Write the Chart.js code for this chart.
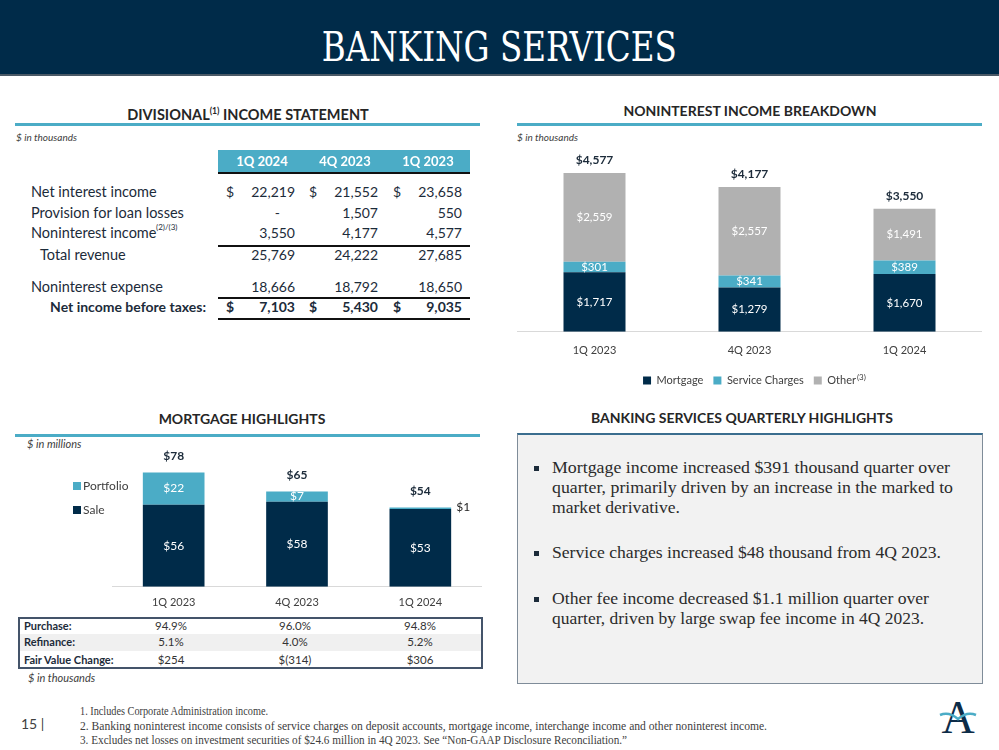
<!DOCTYPE html>
<html>
<head>
<meta charset="utf-8">
<script src="https://cdn.jsdelivr.net/npm/chart.js"></script>
<style>
  body { margin: 0; width: 999px; height: 750px; position: relative; overflow: hidden; background: #fff;
         font-family: Lato, "Open Sans", sans-serif; color: #262626; }
  .t { position: absolute; line-height: 20px; white-space: nowrap; }
  .bar { position: absolute; }
  canvas { position: absolute; }
  sup { font-size: 0.6em; }
</style>
</head>
<body>
<div class="bar" style="left:0;top:0;width:999px;height:74px;background:#002b49;border-bottom:2px solid #4a5966;"></div>
<div class="t fit" data-w="355" data-origin="center" style="left:0;width:999px;text-align:center;top:26px;line-height:42px;font-family:'DejaVu Serif';font-size:41px;color:#fff;">BANKING SERVICES</div>

<!-- section headings -->
<div class="t" style="left:48px;width:400px;text-align:center;top:101px;font-size:14.5px;font-weight:bold;">DIVISIONAL<sup>(1)</sup> INCOME STATEMENT</div>
<div class="bar" style="left:15px;top:123px;width:465px;height:3px;background:#4bacc6;"></div>
<div class="t" style="left:16px;top:127px;font-size:10px;font-style:italic;color:#404040;">$ in thousands</div>

<div class="t" style="left:550px;width:400px;text-align:center;top:101px;font-size:14px;font-weight:bold;">NONINTEREST INCOME BREAKDOWN</div>
<div class="bar" style="left:517px;top:123px;width:465px;height:3px;background:#4bacc6;"></div>
<div class="t" style="left:517px;top:127px;font-size:10px;font-style:italic;color:#404040;">$ in thousands</div>

<div class="t" style="left:42px;width:400px;text-align:center;top:409px;font-size:14px;font-weight:bold;">MORTGAGE HIGHLIGHTS</div>
<div class="bar" style="left:15px;top:434px;width:465px;height:3px;background:#4bacc6;"></div>
<div class="t" style="left:27px;top:434px;font-size:11px;font-style:italic;color:#404040;">$ in millions</div>

<div class="t" style="left:542px;width:400px;text-align:center;top:408px;font-size:14px;font-weight:bold;">BANKING SERVICES QUARTERLY HIGHLIGHTS</div>

<!-- income statement header band -->
<div class="bar" style="left:218px;top:150px;width:252px;height:22px;background:#4bacc6;border-bottom:2px solid #111;"></div>

<!-- noninterest chart -->
<canvas id="nonintChart" width="465" height="256" style="left:517px;top:140px;"></canvas>
<div id="otherSup" class="t" style="left:864px;top:362px;font-size:8px;color:#404040;">(3)</div>

<!-- mortgage chart -->
<canvas id="mortgageChart" width="370" height="164" style="left:112px;top:446px;"></canvas>
<div class="bar" style="left:73px;top:482px;width:8px;height:8px;background:#4bacc6;"></div>
<div class="t" style="left:83px;top:476px;font-size:12px;color:#404040;">Portfolio</div>
<div class="bar" style="left:73px;top:506px;width:8px;height:8px;background:#002b49;"></div>
<div class="t" style="left:83px;top:500px;font-size:12px;color:#404040;">Sale</div>

<!-- mortgage table box -->
<div class="bar" style="left:18px;top:617px;width:461px;height:48px;border:2px solid #44546a;"></div>
<div class="bar" style="left:20px;top:634px;width:461px;height:17px;background:#f0f0f0;"></div>
<div class="t" style="left:28px;top:668px;font-size:11px;font-style:italic;color:#404040;">$ in thousands</div>

<!-- highlights box -->
<div class="bar" style="left:517px;top:433px;width:464px;height:248px;background:#f2f2f2;border:1px solid #7f8c99;border-top:2px solid #3b6e8f;"></div>

<!-- footer -->
<div class="t" style="left:21px;top:714px;font-size:14px;color:#404040;">15 |</div>
<div class="t fit ftn" data-w="188" style="left:80px;top:701px;font-family:'Liberation Serif';font-size:12.5px;color:#404040;">1. Includes Corporate Administration income.</div>
<div class="t fit ftn" data-w="687" style="left:80px;top:716px;font-family:'Liberation Serif';font-size:12.5px;color:#404040;">2. Banking noninterest income consists of service charges on deposit accounts, mortgage income, interchange income and other noninterest income.</div>
<div class="t fit ftn" data-w="547" style="left:80px;top:730px;font-family:'Liberation Serif';font-size:12.5px;color:#404040;">3. Excludes net losses on investment securities of $24.6 million in 4Q 2023. See “Non-GAAP Disclosure Reconciliation.”</div>
<svg style="position:absolute;left:936px;top:694px;" width="44" height="44">
  <text x="22" y="39" text-anchor="middle" font-family="Liberation Serif" font-size="46" fill="#0d2c48">A</text>
  <path d="M4 21 Q13 17 22 25 Q31 17 40 21" stroke="#4bacc6" stroke-width="2.5" fill="none"/>
</svg>

<script>
// income statement (columns newest first)
const incomeCols = ["1Q 2024", "4Q 2023", "1Q 2023"];
const netInterestIncome = [22219, 21552, 23658];
const provisionLoanLosses = [null, 1507, 550];
const noninterestIncome = [3550, 4177, 4577];
const totalRevenue = [25769, 24222, 27685];
const noninterestExpense = [18666, 18792, 18650];
const netIncomeBeforeTaxes = [7103, 5430, 9035];

// charts (oldest first)
const quarters = ["1Q 2023", "4Q 2023", "1Q 2024"];
const mortgageIncome = [1717, 1279, 1670];
const serviceCharges = [301, 341, 389];
const otherIncome = [2559, 2557, 1491];
const saleVolume = [56, 58, 53];
const portfolioVolume = [22, 7, 1];

// mortgage table
const purchasePct = ["94.9%", "96.0%", "94.8%"];
const refinancePct = ["5.1%", "4.0%", "5.2%"];
const fairValueChange = ["$254", "$(314)", "$306"];

const highlights = [
  ["Mortgage income increased $391 thousand quarter over", "quarter, primarily driven by an increase in the marked to", "market derivative."],
  ["Service charges increased $48 thousand from 4Q 2023."],
  ["Other fee income decreased $1.1 million quarter over", "quarter, driven by large swap fee income in 4Q 2023."]
];

const NAVY = "#002b49";
const TEAL = "#4bacc6";
const GREY = "#b1b1b1";

// place a text div centred vertically on y
function put(text, x, y, o = {}) {
  const d = document.createElement("div");
  d.className = "t";
  d.textContent = text;
  d.style.top = (y - 10) + "px";
  if (o.align === "right") d.style.right = (999 - x) + "px";
  else if (o.align === "center") {
    d.style.left = (x - 100) + "px";
    d.style.width = "200px";
    d.style.textAlign = "center";
  } else d.style.left = x + "px";
  if (o.size) d.style.fontSize = o.size + "px";
  if (o.bold) d.style.fontWeight = "bold";
  if (o.color) d.style.color = o.color;
  if (o.family) d.style.fontFamily = o.family;
  document.body.appendChild(d);
  return d;
}

const fmt = (v) => v.toLocaleString("en-US");

// income statement table
const colCenters = [262, 345, 428];
const colRights = [295, 378, 462];
const colDollars = [226, 309, 393];
incomeCols.forEach((c, i) => put(c, colCenters[i], 161, { align: "center", size: 13, bold: true, color: "#fff" }));

const incomeRows = [
  { label: "Net interest income", vals: netInterestIncome, y: 192, dollar: true },
  { label: "Provision for loan losses", vals: provisionLoanLosses, y: 213 },
  { label: "Noninterest income", vals: noninterestIncome, y: 233, sup: "(2)/(3)" },
  { label: "Total revenue", vals: totalRevenue, y: 255, indent: true },
  { label: "Noninterest expense", vals: noninterestExpense, y: 287 },
  { label: "Net income before taxes:", vals: netIncomeBeforeTaxes, y: 307, dollar: true, bold: true }
];
const textCol = "#1c2b3a";
incomeRows.forEach((r) => {
  if (r.bold) put(r.label, 206, r.y, { align: "right", size: 14, bold: true, color: textCol });
  else put(r.label, r.indent ? 40 : 31, r.y, { size: 14.5, color: textCol });
  if (r.sup) put(r.sup, 156, r.y - 6, { size: 8, color: textCol });
  r.vals.forEach((v, i) => {
    if (r.dollar) put("$", colDollars[i], r.y, { size: 14, bold: r.bold, color: textCol });
    if (v === null) put("-", colRights[i] - 15, r.y, { align: "right", size: 14, color: textCol });
    else put(fmt(v), colRights[i], r.y, { align: "right", size: 14, bold: r.bold, color: textCol });
  });
});
[245, 297, 318].forEach((y) => {
  const l = document.createElement("div");
  l.className = "bar";
  l.style.cssText = `left:218px;top:${y}px;width:252px;height:2px;background:#111;`;
  document.body.appendChild(l);
});

// mortgage table
const mtCenters = [171, 295, 420];
[["Purchase:", purchasePct, 626], ["Refinance:", refinancePct, 642], ["Fair Value Change:", fairValueChange, 660]]
  .forEach(([lab, vals, y]) => {
    put(lab, 24, y, { size: 11, bold: true, color: textCol });
    vals.forEach((v, i) => put(v, mtCenters[i], y, { align: "center", size: 11.5, color: "#333" }));
  });

// highlights text
const lineYs = [[468, 488, 508], [553], [599, 619]];
const lineWs = [[398, 401, 128], [389], [377, 372]];
highlights.forEach((para, p) => {
  const sq = document.createElement("div");
  sq.className = "bar";
  sq.style.cssText = `left:534px;top:${lineYs[p][0] - 2}px;width:5px;height:5px;background:#1c2b3a;`;
  document.body.appendChild(sq);
  para.forEach((line, k) => {
    const d = put(line, 552, lineYs[p][k], { size: 17, family: "'Liberation Serif'", color: "#2b2b2b" });
    d.classList.add("fit");
    d.dataset.w = lineWs[p][k];
  });
});

// squeeze text to the reference widths
document.querySelectorAll(".fit").forEach((el) => {
  const target = +el.dataset.w;
  let w;
  if (el.dataset.origin === "center") {
    const s = document.createElement("span");
    s.textContent = el.textContent;
    el.textContent = "";
    el.appendChild(s);
    s.style.display = "inline-block";
    w = s.getBoundingClientRect().width;
    s.style.transform = `scaleX(${target / w})`;
  } else {
    w = el.getBoundingClientRect().width;
    el.style.transformOrigin = "left center";
    el.style.transform = `scaleX(${target / w})`;
  }
});

// labels inside stacked segments and totals on top
const stackLabels = {
  id: "stackLabels",
  afterDatasetsDraw(chart, args, o) {
    const ctx = chart.ctx;
    ctx.save();
    ctx.textBaseline = "middle";
    chart.data.datasets.forEach((ds, i) => {
      chart.getDatasetMeta(i).data.forEach((bar, j) => {
        const v = ds.data[j];
        ctx.font = o.inFont;
        if (v < o.minInside) {
          ctx.textAlign = "left";
          ctx.fillStyle = o.outColor;
          ctx.fillText(o.fmt(v), bar.x + bar.width / 2 + 5, bar.y);
        } else {
          ctx.textAlign = "center";
          ctx.fillStyle = "#fff";
          ctx.fillText(o.fmt(v), bar.x, (bar.y + bar.base) / 2);
        }
      });
    });
    const top = chart.getDatasetMeta(chart.data.datasets.length - 1);
    ctx.textAlign = "center";
    ctx.font = o.totFont;
    ctx.fillStyle = o.totColor;
    top.data.forEach((bar, j) => {
      const total = chart.data.datasets.reduce((s, ds) => s + ds.data[j], 0);
      ctx.fillText(o.fmt(total), bar.x, bar.y - o.totGap);
    });
    ctx.restore();
  }
};

Chart.defaults.font.family = "Lato, 'Open Sans', sans-serif";
Chart.defaults.color = "#404040";

const nonintChart = new Chart(document.getElementById("nonintChart"), {
  type: "bar",
  data: {
    labels: quarters,
    datasets: [
      { label: "Mortgage", data: mortgageIncome, backgroundColor: NAVY },
      { label: "Service Charges", data: serviceCharges, backgroundColor: TEAL },
      { label: "Other", data: otherIncome, backgroundColor: GREY }
    ]
  },
  options: {
    responsive: false,
    animation: false,
    layout: { padding: 0 },
    datasets: { bar: { categoryPercentage: 1, barPercentage: 0.4 } },
    scales: {
      x: {
        stacked: true,
        grid: { display: false },
        border: { color: "#d9d9d9" },
        ticks: { padding: 4, font: { size: 11 } },
        afterFit: (scale) => { scale.height += 4; }
      },
      y: { stacked: true, display: false, min: 0, max: 5530 }
    },
    plugins: {
      legend: {
        position: "bottom",
        labels: { boxWidth: 8, boxHeight: 8, padding: 10, font: { size: 11 } }
      },
      tooltip: { enabled: false },
      stackLabels: {
        inFont: "11.5px Lato",
        totFont: "bold 12px Lato",
        totColor: "#1c2b3a",
        totGap: 13,
        minInside: 0,
        outColor: "#262626",
        fmt: (v) => "$" + fmt(v)
      }
    }
  },
  plugins: [stackLabels]
});

// put the footnote marker right after the "Other" legend text
const lastHit = nonintChart.legend.legendHitBoxes[2];
const sup = document.getElementById("otherSup");
sup.style.left = (517 + lastHit.left + lastHit.width + 1) + "px";
sup.style.top = (140 + lastHit.top - 8) + "px";

new Chart(document.getElementById("mortgageChart"), {
  type: "bar",
  data: {
    labels: quarters,
    datasets: [
      { label: "Sale", data: saleVolume, backgroundColor: NAVY },
      { label: "Portfolio", data: portfolioVolume, backgroundColor: TEAL }
    ]
  },
  options: {
    responsive: false,
    animation: false,
    layout: { padding: 0 },
    datasets: { bar: { categoryPercentage: 1, barPercentage: 0.5 } },
    scales: {
      x: {
        stacked: true,
        grid: { display: false },
        border: { color: "#d9d9d9" },
        ticks: { padding: 1, font: { size: 11 } }
      },
      y: { stacked: true, display: false, min: 0, max: 96 }
    },
    plugins: {
      legend: { display: false },
      tooltip: { enabled: false },
      stackLabels: {
        inFont: "12px Lato",
        totFont: "bold 12px Lato",
        totColor: "#1c2b3a",
        totGap: 16,
        minInside: 3,
        outColor: "#262626",
        fmt: (v) => "$" + v
      }
    }
  },
  plugins: [stackLabels]
});
</script>
</body>
</html>
